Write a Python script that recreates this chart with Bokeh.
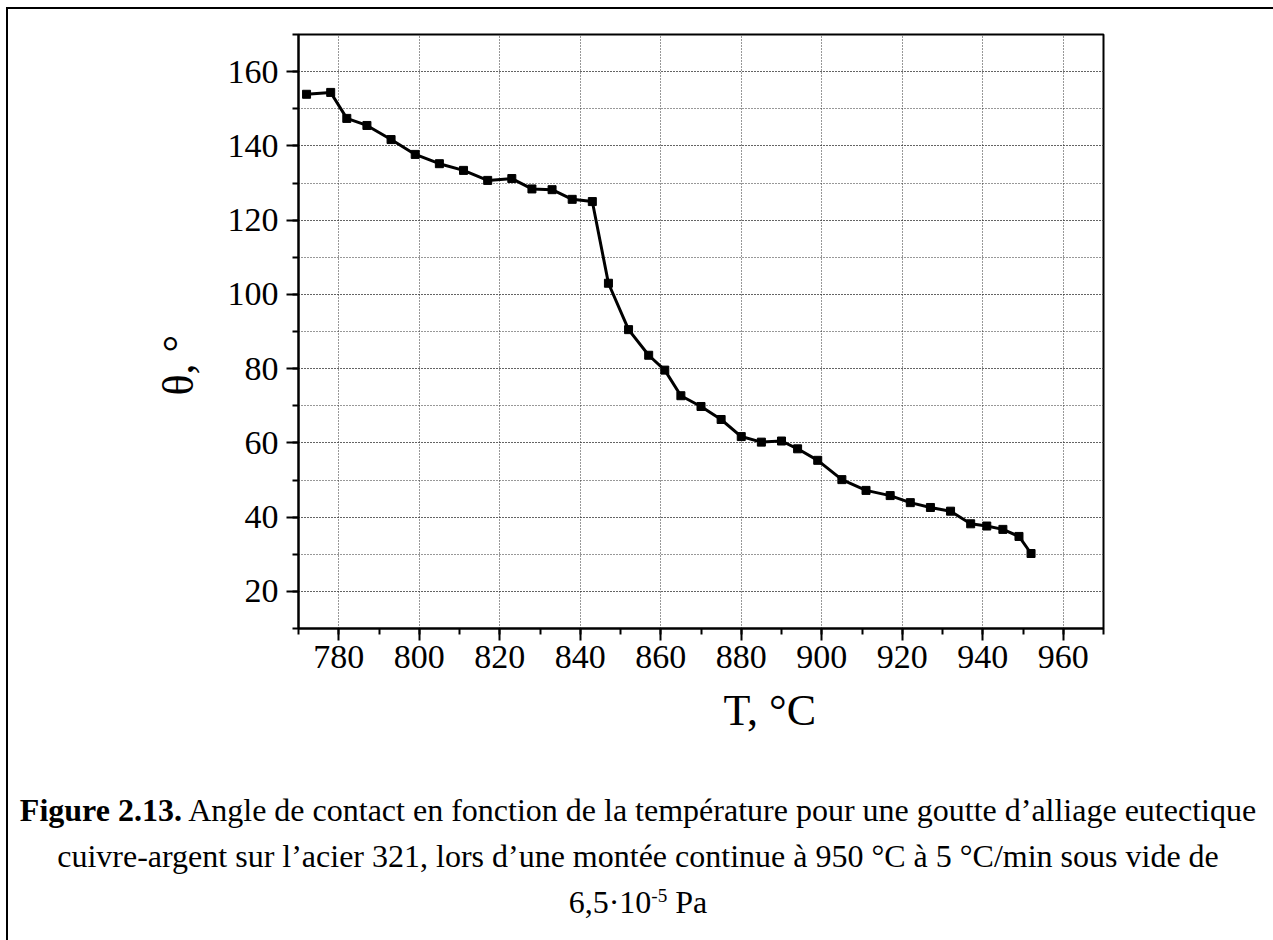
from bokeh.plotting import figure
from bokeh.layouts import column
from bokeh.models import Range1d, SingleIntervalTicker, Title, Div
from bokeh.embed import file_html
from bokeh.resources import INLINE

# ---------------- data ----------------
temperature = [772, 778, 782, 787, 793, 799, 805, 811, 817, 823, 828, 833, 838, 843,
               847, 852, 857, 861, 865, 870, 875, 880, 885, 890, 894, 899, 905, 911,
               917, 922, 927, 932, 937, 941, 945, 949, 952]
theta = [153.9, 154.4, 147.4, 145.5, 141.7, 137.7, 135.2, 133.4, 130.7, 131.2, 128.4,
         128.2, 125.6, 125.0, 103.0, 90.5, 83.6, 79.6, 72.7, 69.8, 66.3, 61.7, 60.2,
         60.5, 58.4, 55.3, 50.1, 47.2, 45.8, 43.9, 42.6, 41.6, 38.2, 37.6, 36.7, 34.8,
         30.2]

x_min, x_max, x_step = 770, 970, 20
y_min, y_max, y_step = 10, 170, 20
x_label = "T, °C"
y_label = "θ, °"
caption_bold = "Figure 2.13."
caption_line1 = "Angle de contact en fonction de la température pour une goutte d’alliage eutectique"
caption_line2 = "cuivre-argent sur l’acier 321, lors d’une montée continue à 950 °C à 5 °C/min sous vide de"
caption_line3 = ["6,5·10", "-5", " Pa"]

FONT = "Liberation Serif"

# ---------------- layout (page pixels) ----------------
OX, OY = 8, 9                      # canvas origin after the border
FL, FT, FW, FH = 298, 34, 805, 594  # plot frame in page px
FB = FT + FH
W = 1273 - OX
SPLIT = 760                         # page y where caption panel starts
H1 = SPLIT - OY
H2 = 940 - SPLIT

p = figure(frame_width=FW, frame_height=FH,
           min_border_left=FL - OX, min_border_top=FT - OY,
           min_border_right=W - (FL - OX) - FW, min_border_bottom=H1 - (FT - OY) - FH,
           x_range=Range1d(x_min, x_max), y_range=Range1d(y_min, y_max),
           output_backend="svg", toolbar_location=None)
p.background_fill_color = "white"
p.border_fill_color = "white"
p.outline_line_color = "black"
p.outline_line_width = 2

xt = SingleIntervalTicker(interval=x_step, num_minor_ticks=2)
yt = SingleIntervalTicker(interval=y_step, num_minor_ticks=2)
p.xaxis.ticker = xt
p.yaxis.ticker = yt
p.xgrid.ticker = xt
p.ygrid.ticker = yt

for ax in (p.xaxis, p.yaxis):
    ax.axis_line_width = 2
    ax.axis_line_color = "black"
    ax.major_tick_line_width = 2
    ax.minor_tick_line_width = 2
    ax.major_tick_line_color = "black"
    ax.minor_tick_line_color = "black"
    ax.major_tick_out = 12
    ax.major_tick_in = 0
    ax.minor_tick_out = 6
    ax.minor_tick_in = 0
    ax.major_label_text_font = FONT
    ax.major_label_text_font_size = "34px"
    ax.major_label_text_color = "black"
p.xaxis.major_label_standoff = 5
p.yaxis.major_label_standoff = 8

for g in (p.xgrid, p.ygrid):
    g.grid_line_color = "#303030"
    g.grid_line_dash = "1 2"
    g.grid_line_width = 1
p.ygrid.minor_grid_line_color = "#303030"
p.ygrid.minor_grid_line_dash = "1 2"
p.ygrid.minor_grid_line_width = 1

p.line(temperature, theta, line_color="black", line_width=3)
p.scatter(temperature, theta, marker="square", size=8, fill_color="black", line_color="black")

# axis titles (placed off-centre, as in the reference)
p.add_layout(Title(text=y_label, align="left", offset=FB - 395, standoff=43, text_font=FONT,
                   text_font_size="44px", text_font_style="normal", text_color="black"), "left")
p.add_layout(Title(text=x_label, align="left", offset=723 - FL, standoff=27, text_font=FONT,
                   text_font_size="44px", text_font_style="normal", text_color="black"), "below")

# ---------------- caption ----------------
CAP = 32
CX = 638
LINE_H = 46
FIRST_BASE = 821
pad_top = FIRST_BASE - SPLIT - round((LINE_H - 1.107 * CAP) / 2 + 0.891 * CAP)
sup_style = "font-size:60%; vertical-align:0.55em; line-height:0;"
line_style = f"width:{2 * (CX - OX)}px; text-align:center; white-space:nowrap;"
html = (
    f'<div style="font-family:\'{FONT}\', serif; font-size:{CAP}px; line-height:{LINE_H}px; '
    f'color:black; padding-top:{pad_top}px; margin:0;">'
    f'<div style="{line_style}"><b>{caption_bold}</b> {caption_line1}</div>'
    f'<div style="{line_style}">{caption_line2}</div>'
    f'<div style="{line_style}">{caption_line3[0]}<span style="{sup_style}">{caption_line3[1]}</span>'
    f'{caption_line3[2]}</div>'
    '</div>'
)
cap = Div(text=html, width=W, height=H2, margin=0)

layout = column(p, cap, spacing=0,
                styles={"margin-left": "6px", "margin-top": "7px",
                        "border-left": "2px solid black", "border-top": "2px solid black"})

open("out.html", "w").write(file_html(layout, INLINE))
